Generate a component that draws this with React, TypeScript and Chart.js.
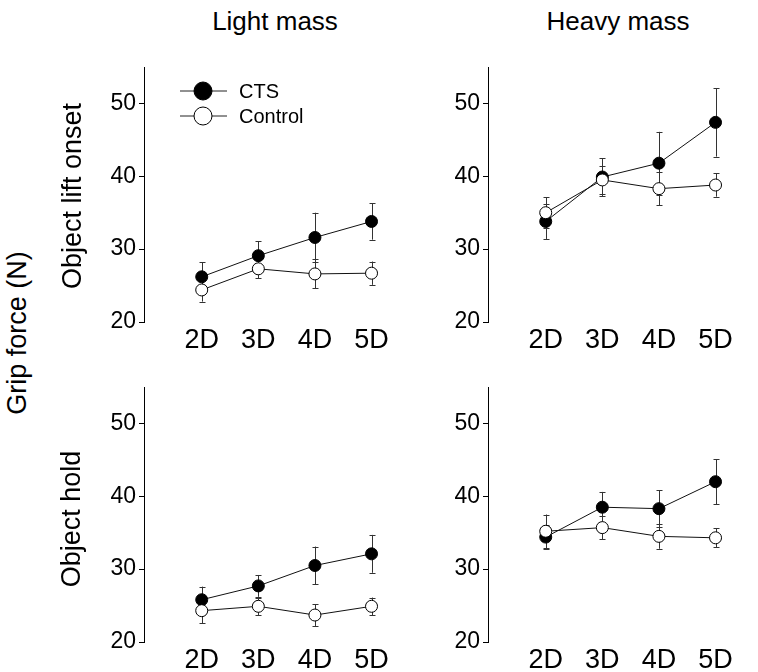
import React, { useEffect, useRef } from "react";
import { Chart, registerables } from "chart.js";

Chart.register(...registerables);

const FONT = '"Liberation Sans", Arial, Helvetica, sans-serif';

const categories = ["2D", "3D", "4D", "5D"];
const yTicks = [20, 30, 40, 50];
const seriesNames = ["CTS", "Control"];

// Light mass, object lift onset
const lightLiftCTS = [26.2, 29.1, 31.6, 33.8];
const lightLiftCTSErr = [2.0, 2.0, 3.4, 2.5];
const lightLiftControl = [24.4, 27.3, 26.6, 26.7];
const lightLiftControlErr = [1.6, 1.3, 2.0, 1.6];

// Heavy mass, object lift onset
const heavyLiftCTS = [33.8, 39.9, 41.8, 47.4];
const heavyLiftCTSErr = [2.4, 2.6, 4.3, 4.7];
const heavyLiftControl = [35.0, 39.5, 38.3, 38.8];
const heavyLiftControlErr = [2.1, 1.9, 2.3, 1.6];

// Light mass, object hold
const lightHoldCTS = [25.8, 27.7, 30.5, 32.1];
const lightHoldCTSErr = [1.8, 1.5, 2.6, 2.6];
const lightHoldControl = [24.3, 24.9, 23.7, 24.9];
const lightHoldControlErr = [1.7, 1.2, 1.5, 1.2];

// Heavy mass, object hold
const heavyHoldCTS = [34.4, 38.5, 38.3, 42.0];
const heavyHoldCTSErr = [1.7, 2.1, 2.5, 3.1];
const heavyHoldControl = [35.2, 35.7, 34.5, 34.3];
const heavyHoldControlErr = [2.3, 1.6, 1.7, 1.3];

const Y_MIN = 20;
const Y_MAX = 55;

type PanelProps = {
  cts: number[];
  ctsErr: number[];
  ctrl: number[];
  ctrlErr: number[];
  legend: boolean;
  left: number;
  top: number;
};

const CW = 320;
const CH = 315;

function Panel({ cts, ctsErr, ctrl, ctrlErr, legend, left, top }: PanelProps) {
  const ref = useRef<HTMLCanvasElement | null>(null);

  useEffect(() => {
    if (!ref.current) return;
    const errs = [ctsErr, ctrlErr];

    const errorBarPlugin = {
      id: "errorBars",
      beforeDatasetsDraw(chart: any) {
        const ctx = chart.ctx;
        const yScale = chart.scales.y;
        ctx.save();
        ctx.strokeStyle = "#333";
        ctx.lineWidth = 1;
        chart.data.datasets.forEach((ds: any, di: number) => {
          const meta = chart.getDatasetMeta(di);
          meta.data.forEach((pt: any, i: number) => {
            const v = ds.data[i].y;
            const e = errs[di][i];
            const x = Math.round(pt.x) + 0.5;
            const yHi = yScale.getPixelForValue(v + e);
            const yLo = yScale.getPixelForValue(v - e);
            ctx.beginPath();
            ctx.moveTo(x, yHi);
            ctx.lineTo(x, yLo);
            ctx.moveTo(x - 3, Math.round(yHi) + 0.5);
            ctx.lineTo(x + 3, Math.round(yHi) + 0.5);
            ctx.moveTo(x - 3, Math.round(yLo) + 0.5);
            ctx.lineTo(x + 3, Math.round(yLo) + 0.5);
            ctx.stroke();
          });
        });
        ctx.restore();
      },
    };

    const legendPlugin = {
      id: "lineLegend",
      afterDatasetsDraw(chart: any) {
        if (!legend) return;
        const ctx = chart.ctx;
        const ca = chart.chartArea;
        const mx = ca.left + 59;
        const rows = [
          { y: ca.top + 24, fill: "#000" },
          { y: ca.top + 49, fill: "#fff" },
        ];
        ctx.save();
        rows.forEach((r, i) => {
          ctx.strokeStyle = "#222";
          ctx.lineWidth = 1;
          ctx.beginPath();
          ctx.moveTo(mx - 23, r.y);
          ctx.lineTo(mx + 24, r.y);
          ctx.stroke();
          ctx.beginPath();
          ctx.arc(mx, r.y, 9, 0, Math.PI * 2);
          ctx.fillStyle = r.fill;
          ctx.fill();
          ctx.strokeStyle = "#000";
          ctx.stroke();
          ctx.fillStyle = "#000";
          ctx.font = `20px ${FONT}`;
          ctx.textBaseline = "middle";
          ctx.textAlign = "left";
          ctx.fillText(chart.data.datasets[i].label, ca.left + 95, r.y + 1);
        });
        ctx.restore();
      },
    };

    const chart = new Chart(ref.current, {
      type: "line",
      data: {
        datasets: [
          {
            label: seriesNames[0],
            data: cts.map((v, i) => ({ x: i, y: v })),
            borderColor: "#111",
            borderWidth: 1,
            pointRadius: 6,
            pointBackgroundColor: "#000",
            pointBorderColor: "#000",
            pointBorderWidth: 1,
            order: 1,
          },
          {
            label: seriesNames[1],
            data: ctrl.map((v, i) => ({ x: i, y: v })),
            borderColor: "#111",
            borderWidth: 1,
            pointRadius: 6,
            pointBackgroundColor: "#fff",
            pointBorderColor: "#000",
            pointBorderWidth: 1,
            order: 0,
          },
        ],
      },
      options: {
        responsive: false,
        animation: false,
        layout: { padding: { top: 20, left: 0, right: 0, bottom: 0 } },
        plugins: { legend: { display: false }, tooltip: { enabled: false } },
        scales: {
          x: {
            type: "linear",
            min: -1.02,
            max: 3.45,
            afterBuildTicks: (s: any) => {
              s.ticks = categories.map((_, i) => ({ value: i }));
            },
            afterFit: (s: any) => {
              s.height = 40;
            },
            ticks: {
              callback: (v: any) => categories[v as number] ?? "",
              font: { family: FONT, size: 27 },
              color: "#000",
              padding: 2,
              autoSkip: false,
              maxRotation: 0,
            },
            grid: { display: false, drawTicks: false },
            border: { display: false },
          },
          y: {
            type: "linear",
            min: Y_MIN,
            max: Y_MAX,
            afterBuildTicks: (s: any) => {
              s.ticks = yTicks.map((v) => ({ value: v }));
            },
            afterFit: (s: any) => {
              s.width = 60;
            },
            ticks: {
              font: { family: FONT, size: 23 },
              color: "#000",
              padding: 3,
            },
            grid: {
              display: true,
              drawOnChartArea: false,
              drawTicks: true,
              tickLength: 5,
              color: "#000",
            },
            border: { display: true, color: "#000", width: 1 },
          },
        },
      },
      plugins: [errorBarPlugin, legendPlugin],
    } as any);

    return () => chart.destroy();
  }, []);

  return (
    <canvas
      ref={ref}
      width={CW}
      height={CH}
      style={{ position: "absolute", left, top, width: CW, height: CH }}
    />
  );
}

const textBase: React.CSSProperties = {
  position: "absolute",
  fontFamily: FONT,
  color: "#000",
  whiteSpace: "nowrap",
  lineHeight: 1,
};

export default function App() {
  return (
    <div
      style={{
        position: "fixed",
        left: 0,
        top: 0,
        width: 758,
        height: 672,
        background: "#fff",
        overflow: "hidden",
      }}
    >
      <Panel cts={lightLiftCTS} ctsErr={lightLiftCTSErr} ctrl={lightLiftControl} ctrlErr={lightLiftControlErr} legend={true} left={84} top={47} />
      <Panel cts={heavyLiftCTS} ctsErr={heavyLiftCTSErr} ctrl={heavyLiftControl} ctrlErr={heavyLiftControlErr} legend={false} left={428} top={47} />
      <Panel cts={lightHoldCTS} ctsErr={lightHoldCTSErr} ctrl={lightHoldControl} ctrlErr={lightHoldControlErr} legend={false} left={84} top={367} />
      <Panel cts={heavyHoldCTS} ctsErr={heavyHoldCTSErr} ctrl={heavyHoldControl} ctrlErr={heavyHoldControlErr} legend={false} left={428} top={367} />

      <div style={{ ...textBase, fontSize: 26, left: 275, top: 8, transform: "translateX(-50%)" }}>Light mass</div>
      <div style={{ ...textBase, fontSize: 26, left: 618, top: 8, transform: "translateX(-50%)" }}>Heavy mass</div>

      <div style={{ ...textBase, fontSize: 27, left: 72, top: 196, transform: "translate(-50%, -50%) rotate(-90deg)" }}>Object lift onset</div>
      <div style={{ ...textBase, fontSize: 27, left: 71, top: 519, transform: "translate(-50%, -50%) rotate(-90deg)" }}>Object hold</div>
      <div style={{ ...textBase, fontSize: 27, left: 17, top: 333, transform: "translate(-50%, -50%) rotate(-90deg)" }}>Grip force (N)</div>
    </div>
  );
}
